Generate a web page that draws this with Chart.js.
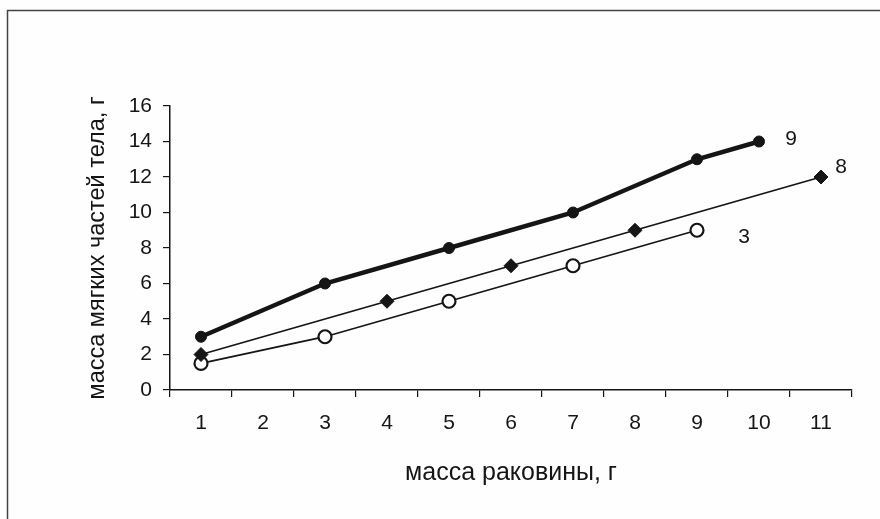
<!DOCTYPE html>
<html><head><meta charset="utf-8">
<script src="https://cdn.jsdelivr.net/npm/chart.js@4"></script>
<style>html,body{margin:0;padding:0;background:#fff}#w{width:880px;height:519px}</style>
</head><body><div id="w"><canvas id="c"></canvas></div>
<script>
const categories = ['1','2','3','4','5','6','7','8','9','10','11'];
const series9 = [3, null, 6, null, 8, null, 10, null, 13, 14, null];
const series8 = [2, null, null, 5, null, 7, null, 9, null, null, 12];
const series3 = [1.5, null, 3, null, 5, null, 7, null, 9, null, null];
const seriesNames = ['9', '8', '3'];
const yTicks = [0, 2, 4, 6, 8, 10, 12, 14, 16];
const xTitle = 'масса раковины, г';
const yTitle = 'масса мягких частей тела, г';

const ink = '#151515';
const fam = '"Liberation Sans", Arial, sans-serif';
const tickFont = {family: fam, size: 21};
const xTitleFont = {family: fam, size: 25};
const yTitleFont = {family: fam, size: 23.5};
const endOffsets = [[32, -2], [20, -10], [47, 7]];

const frame = {
  id: 'frame',
  beforeDraw(chart) {
    const ctx = chart.ctx;
    ctx.save();
    ctx.fillStyle = '#fefefe';
    ctx.fillRect(0, 0, chart.width, chart.height);
    ctx.strokeStyle = '#444';
    ctx.lineWidth = 1.5;
    ctx.strokeRect(7.5, 10.5, 1000, 1000);
    ctx.restore();
  }
};
const endLabels = {
  id: 'endLabels',
  afterDatasetsDraw(chart) {
    const ctx = chart.ctx;
    ctx.save();
    ctx.fillStyle = ink;
    ctx.font = '21px ' + fam;
    ctx.textAlign = 'center';
    ctx.textBaseline = 'middle';
    chart.data.datasets.forEach((ds, i) => {
      const meta = chart.getDatasetMeta(i);
      let last = -1;
      ds.data.forEach((v, j) => { if (v !== null) last = j; });
      const pt = meta.data[last];
      ctx.fillText(seriesNames[i], pt.x + endOffsets[i][0], pt.y + endOffsets[i][1]);
    });
    ctx.restore();
  }
};

new Chart(document.getElementById('c'), {
  type: 'line',
  data: {
    labels: categories,
    datasets: [
      {label: seriesNames[0], data: series9, borderColor: ink, backgroundColor: ink, borderWidth: 4.5,
       pointStyle: 'circle', pointRadius: 5.5, pointBorderWidth: 1, pointBorderColor: ink, pointBackgroundColor: ink, spanGaps: true, tension: 0},
      {label: seriesNames[1], data: series8, borderColor: ink, backgroundColor: ink, borderWidth: 1.8,
       pointStyle: 'rectRot', pointRadius: 7, pointBorderWidth: 1, pointBorderColor: ink, pointBackgroundColor: ink, spanGaps: true, tension: 0},
      {label: seriesNames[2], data: series3, borderColor: ink, backgroundColor: '#fff', borderWidth: 1.8,
       pointStyle: 'circle', pointRadius: 6.5, pointBorderWidth: 2.2, pointBorderColor: ink, pointBackgroundColor: '#fff', spanGaps: true, tension: 0}
    ]
  },
  options: {
    responsive: true, maintainAspectRatio: false, animation: false, devicePixelRatio: 1,
    layout: {padding: {left: 8, right: 28, top: 106, bottom: 0}},
    plugins: {legend: {display: false}, tooltip: {enabled: false}},
    scales: {
      x: {
        type: 'category', offset: true,
        grid: {offset: true, display: true, drawOnChartArea: false, drawTicks: true, tickLength: 7, color: ink, lineWidth: 1.2},
        border: {display: true, color: ink, width: 1.5},
        ticks: {color: ink, font: tickFont, padding: 14, maxRotation: 0, autoSkip: false},
        title: {display: true, text: xTitle, color: ink, font: xTitleFont, padding: {top: 0, bottom: 31}},
        afterFit(s) { s.height = 129; }
      },
      y: {
        min: 0, max: 16,
        afterBuildTicks(s) { s.ticks = yTicks.map(v => ({value: v})); },
        grid: {display: true, drawOnChartArea: false, drawTicks: true, tickLength: 7, color: ink, lineWidth: 1.2},
        border: {display: true, color: ink, width: 1.5},
        ticks: {color: ink, font: tickFont, padding: 11},
        title: {display: true, text: yTitle, color: ink, font: yTitleFont, padding: {top: 75, bottom: 0}},
        afterFit(s) { s.width = 162; }
      }
    }
  },
  plugins: [frame, endLabels]
});
</script></body></html>
